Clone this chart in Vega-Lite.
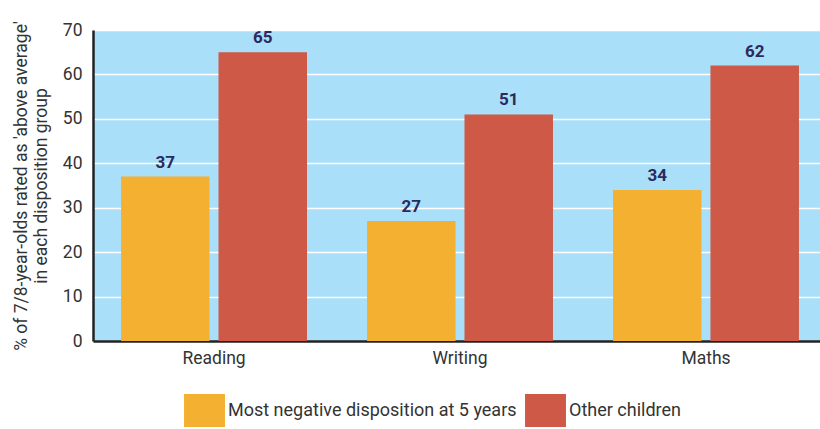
{
  "$schema": "https://vega.github.io/schema/vega-lite/v6.json",
  "width": 734,
  "height": 311,
  "autosize": {"type": "none"},
  "padding": {"left": 93, "top": 30, "right": 0, "bottom": 88},
  "background": "white",
  "config": {
    "view": {"fill": "#a9dff9", "stroke": null},
    "font": "Roboto"
  },
  "data": {
    "values": [
      {"subject": "Reading", "group": "Most negative disposition at 5 years", "value": 37},
      {"subject": "Reading", "group": "Other children", "value": 65},
      {"subject": "Writing", "group": "Most negative disposition at 5 years", "value": 27},
      {"subject": "Writing", "group": "Other children", "value": 51},
      {"subject": "Maths", "group": "Most negative disposition at 5 years", "value": 34},
      {"subject": "Maths", "group": "Other children", "value": 62}
    ]
  },
  "encoding": {
    "x": {
      "field": "subject", "type": "nominal", "sort": ["Reading", "Writing", "Maths"],
      "scale": {"paddingInner": 0.244, "paddingOuter": 0.114},
      "axis": {"title": null, "labelAngle": 0, "labelFontSize": 17.5, "labelColor": "#333333", "labelPadding": 8, "ticks": false, "domainColor": "#222222", "domainWidth": 2.5}
    },
    "xOffset": {
      "field": "group", "type": "nominal",
      "scale": {"paddingInner": 0.092, "paddingOuter": 0}
    },
    "y": {
      "field": "value", "type": "quantitative",
      "scale": {"domain": [0, 70]},
      "axis": {
        "values": [0, 10, 20, 30, 40, 50, 60, 70],
        "title": ["% of 7/8-year-olds rated as 'above average'", "in each disposition group"],
        "titleFontSize": 17.5, "titleFontWeight": "normal", "titleColor": "#333333", "titlePadding": 12, "titleLineHeight": 20,
        "labelFontSize": 17.5, "labelColor": "#333333", "labelPadding": 11,
        "ticks": false, "domainColor": "#222222", "domainWidth": 2.5,
        "gridColor": "white", "gridWidth": 1.5, "gridOpacity": 1
      }
    }
  },
  "layer": [
    {
      "mark": {"type": "bar"},
      "encoding": {
        "color": {
          "field": "group", "type": "nominal",
          "scale": {"domain": ["Most negative disposition at 5 years", "Other children"], "range": ["#f4b030", "#cd5946"]},
          "legend": {
            "title": null, "orient": "none", "direction": "horizontal",
            "legendX": 95, "legendY": 364,
            "symbolType": "M-1.24,-1H1.24V1H-1.24Z", "symbolSize": 1089, "symbolStrokeWidth": 0, "symbolOpacity": 1,
            "labelFontSize": 18, "labelColor": "#333333", "labelOffset": 7, "columnPadding": 8, "labelLimit": 400
          }
        }
      }
    },
    {
      "mark": {"type": "text", "baseline": "bottom", "dy": -5, "fontSize": 17, "fontWeight": "bold", "color": "#2c2a5c"},
      "encoding": {"text": {"field": "value", "type": "quantitative"}}
    }
  ]
}
